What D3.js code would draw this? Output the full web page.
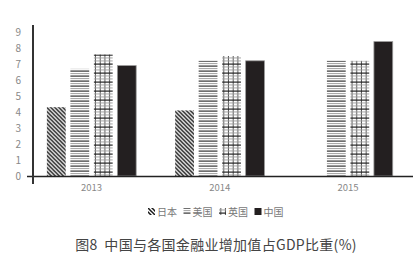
<!DOCTYPE html>
<html>
<head>
<meta charset="utf-8">
<script src="https://cdn.jsdelivr.net/npm/d3@7"></script>
<style>
  body { margin: 0; background: #fff; }
  svg text { font-family: "Noto Sans CJK SC", "Noto Sans", sans-serif; }
</style>
</head>
<body>
<div id="chart"></div>
<script>
// 数据
const years = ['2013', '2014', '2015'];
const series = ['日本', '美国', '英国', '中国'];
const japan = [4.3, 4.1, null];
const usa = [6.7, 7.2, 7.2];
const uk = [7.6, 7.5, 7.2];
const china = [6.9, 7.2, 8.4];
const yTicks = [0, 1, 2, 3, 4, 5, 6, 7, 8, 9];
const values = [japan, usa, uk, china];

const width = 413, height = 258;

const svg = d3.select('#chart').append('svg')
  .attr('width', width).attr('height', height);

// 填充图案
const defs = svg.append('defs');

const pJp = defs.append('pattern').attr('id', 'p-jp')
  .attr('patternUnits', 'userSpaceOnUse').attr('width', 4).attr('height', 4);
pJp.append('rect').attr('width', 4).attr('height', 4).attr('fill', '#fff');
pJp.append('path').attr('d', 'M-1,-1 L5,5 M3,-1 L5,1 M-1,3 L1,5')
  .attr('stroke', '#1a1a1a').attr('stroke-width', 1.5);

const pUs = defs.append('pattern').attr('id', 'p-us')
  .attr('patternUnits', 'userSpaceOnUse').attr('width', 6).attr('height', 5);
pUs.append('rect').attr('width', 6).attr('height', 5).attr('fill', '#fff');
pUs.append('rect').attr('y', 0.5).attr('width', 6).attr('height', 1.2).attr('fill', '#333');
pUs.append('rect').attr('y', 3).attr('width', 6).attr('height', 1.1).attr('fill', '#aaa');

const pUk = defs.append('pattern').attr('id', 'p-uk')
  .attr('patternUnits', 'userSpaceOnUse').attr('width', 4.7).attr('height', 9);
pUk.append('rect').attr('width', 4.7).attr('height', 9).attr('fill', '#fff');
pUk.append('rect').attr('x', 1.8).attr('width', 1).attr('height', 9).attr('fill', '#555');
pUk.append('rect').attr('y', 0.5).attr('width', 4.7).attr('height', 1.2).attr('fill', '#222');
pUk.append('rect').attr('y', 3.5).attr('width', 4.7).attr('height', 0.9).attr('fill', '#999');
pUk.append('rect').attr('y', 6.5).attr('width', 4.7).attr('height', 0.9).attr('fill', '#999');

const fills = ['url(#p-jp)', 'url(#p-us)', 'url(#p-uk)', '#231f20'];

// 比例尺
const x = d3.scaleBand().domain(years).range([27.4, 412.2]).padding(0);
const xs = d3.scaleBand().domain(series)
  .range([x.bandwidth() / 2 - 47, x.bandwidth() / 2 + 47])
  .paddingInner(0.2).paddingOuter(0.1);
const y = d3.scaleLinear().domain([0, 9]).range([176, 32]);

// 柱子
const groups = svg.append('g').selectAll('g')
  .data(years).enter().append('g')
  .attr('transform', d => `translate(${x(d)},0)`);

groups.selectAll('rect')
  .data((d, i) => series.map((s, j) => ({ s, v: values[j][i], j })).filter(e => e.v != null))
  .enter().append('rect')
  .attr('x', d => xs(d.s))
  .attr('y', d => y(d.v))
  .attr('width', xs.bandwidth())
  .attr('height', d => y(0) - y(d.v))
  .attr('fill', d => fills[d.j])
  .attr('stroke', d => d.j === 3 ? '#999' : 'none')
  .attr('stroke-width', 0.8);

// Y轴
const yAxis = svg.append('g').attr('transform', 'translate(33,0)')
  .call(d3.axisLeft(y).tickValues(yTicks).tickSize(0).tickPadding(12));
yAxis.select('.domain').remove();
yAxis.selectAll('text').attr('fill', '#888').style('font-size', '10px');

// X轴
const xAxis = svg.append('g').attr('transform', 'translate(0,176)')
  .call(d3.axisBottom(x).tickSize(0).tickPadding(8));
xAxis.select('.domain').remove();
xAxis.selectAll('text').attr('fill', '#888').style('font-size', '9.5px');

svg.append('line').attr('x1', 27).attr('x2', 413).attr('y1', 176.5).attr('y2', 176.5)
  .attr('stroke', '#222').attr('stroke-width', 1.5);
svg.append('line').attr('x1', 33).attr('x2', 33).attr('y1', 25).attr('y2', 184)
  .attr('stroke', '#333').attr('stroke-width', 2);

// 图例
const legend = svg.append('g').attr('transform', 'translate(148,212)');
let lx = 0;
series.forEach((s, j) => {
  legend.append('rect').attr('x', lx).attr('y', -4).attr('width', 7).attr('height', 7)
    .attr('fill', fills[j]);
  const t = legend.append('text').attr('x', lx + 9).attr('y', 0).attr('dy', '0.35em')
    .attr('fill', '#777').style('font-size', '10px').text(s);
  lx += 9 + t.node().getComputedTextLength() + 6.5;
});

// 标题
svg.append('text').attr('x', 216).attr('y', 245).attr('dy', '0.35em')
  .attr('text-anchor', 'middle').attr('fill', '#444').style('font-size', '14px')
  .style('white-space', 'pre').style('letter-spacing', '0.3px')
  .text('图8  中国与各国金融业增加值占GDP比重(%)');
</script>
</body>
</html>
